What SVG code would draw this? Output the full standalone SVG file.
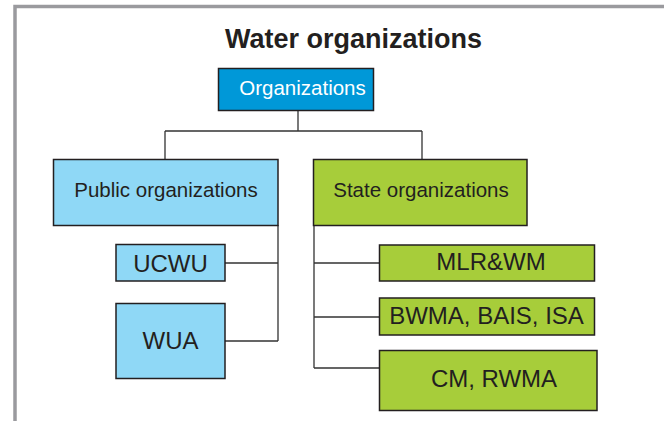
<svg xmlns="http://www.w3.org/2000/svg" width="664" height="421" viewBox="0 0 664 421">
<style>
text{font-family:"Liberation Sans",Arial,sans-serif;fill:#231f20;text-anchor:middle}
.title{font-size:27px;font-weight:bold}
.top{fill:#0098d8;stroke:#231f20;stroke-width:1.5}
.blue{fill:#8fd8f6;stroke:#231f20;stroke-width:1.5}
.green{fill:#a7cd3a;stroke:#231f20;stroke-width:1.5}
.mid{font-size:20.5px}
.big{font-size:24px}
.conn{fill:none;stroke:#333;stroke-width:1.3}
</style>
<rect width="664" height="421" fill="#fff"/>
<path d="M15,421 V6.5 H664" fill="none" stroke="#9a9a9e" stroke-width="3.5"/>
<text class="title" x="353.5" y="48">Water organizations</text>
<g id="connectors" class="conn">
<path d="M298,111 V131 M165,131 H422 M165,131 V159 M422,131 V159"/>
<path d="M278,225 V341 M225,263 H278 M225,341 H278"/>
<path d="M314,220 V368 M314,263 H379 M314,317 H379 M314,368 H379"/>
</g>
<g id="organizations">
<rect class="top" x="218.5" y="68.5" width="155" height="42"/>
<text x="302.5" y="95" style="font-size:20.5px;fill:#fff">Organizations</text>
</g>
<g id="public">
<rect class="blue" x="53.5" y="159.5" width="224.5" height="66"/>
<text class="mid" x="166" y="197">Public organizations</text>
</g>
<g id="state">
<rect class="green" x="313.5" y="159.5" width="213.5" height="66"/>
<text class="mid" x="421" y="197">State organizations</text>
</g>
<g id="ucwu">
<rect class="blue" x="116" y="244.5" width="109" height="36.5"/>
<text class="big" x="170.5" y="272">UCWU</text>
</g>
<g id="wua">
<rect class="blue" x="116" y="303.5" width="109" height="75"/>
<text class="big" x="170.5" y="349">WUA</text>
</g>
<g id="mlrwm">
<rect class="green" x="379.5" y="245" width="215" height="36"/>
<text class="big" x="491" y="270">MLR&amp;WM</text>
</g>
<g id="bwma">
<rect class="green" x="379.5" y="298" width="215" height="37"/>
<text class="big" x="486.5" y="324">BWMA, BAIS, ISA</text>
</g>
<g id="cm">
<rect class="green" x="379.5" y="350.5" width="217.5" height="60"/>
<text class="big" x="494" y="387">CM, RWMA</text>
</g>
</svg>
